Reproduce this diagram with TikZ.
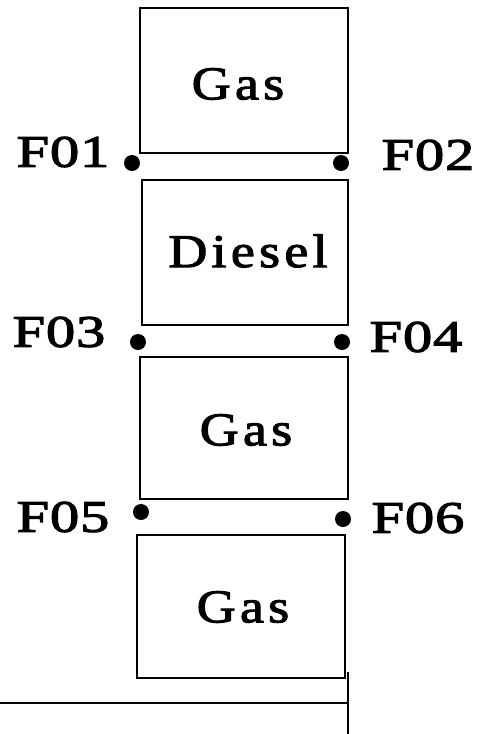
\documentclass[tikz,border=0pt]{standalone}
\usepackage{fontspec}
\setmainfont{Liberation Serif}[FakeStretch=1.15,LetterSpace=9,FakeBold=2.2]
\newfontfamily\lblfont{Liberation Serif}[FakeStretch=1.3,LetterSpace=2,FakeBold=2.6]
\begin{document}
\begin{tikzpicture}[x=1pt,y=-1pt,
  unitbox/.style={draw,line width=2.2pt,minimum width=208pt,minimum height=145pt,inner sep=0pt},
  boxtext/.style={inner sep=0pt,font=\fontsize{47}{50}\selectfont},
  lbl/.style={inner sep=0pt,font=\lblfont\fontsize{45}{48}\selectfont},
  pin/.style={circle,fill,inner sep=0pt,minimum size=16pt},
  wire/.style={line width=2.2pt}]
\useasboundingbox (0,0) rectangle (477,734);
% boxes
\node[unitbox] (b1) at (244,80.5) {};
\node[unitbox,minimum width=206pt] (b2) at (245,252.5) {};
\node[unitbox,minimum height=142pt] (b3) at (244,428) {};
\node[unitbox,minimum height=143pt] (b4) at (241,606.5) {};
% box texts
\node[boxtext] (t1) at (238,84) {Gas};
\node[boxtext] (t2) at (248,251) {Diesel};
\node[boxtext] (t3) at (246,430) {Gas};
\node[boxtext] (t4) at (243,607) {Gas};
% pins
\node[pin] (p1) at (132,163) {};
\node[pin] (p2) at (341,163) {};
\node[pin] (p3) at (138,342) {};
\node[pin] (p4) at (342,342) {};
\node[pin] (p5) at (141,512) {};
\node[pin] (p6) at (343,519) {};
% labels
\node[lbl] (l1) at (63,152) {F01};
\node[lbl] (l2) at (428,155) {F02};
\node[lbl] (l3) at (59,332) {F03};
\node[lbl] (l4) at (416,337) {F04};
\node[lbl] (l5) at (63,517) {F05};
\node[lbl] (l6) at (418,518) {F06};
% bottom lines
\coordinate (h0) at (0,703);
\coordinate (h1) at (348,703);
\coordinate (v0) at (348,672);
\coordinate (v1) at (348,734);
\draw[wire] (h0) -- (h1);
\draw[wire] (v0) -- (v1);
\end{tikzpicture}
\end{document}
